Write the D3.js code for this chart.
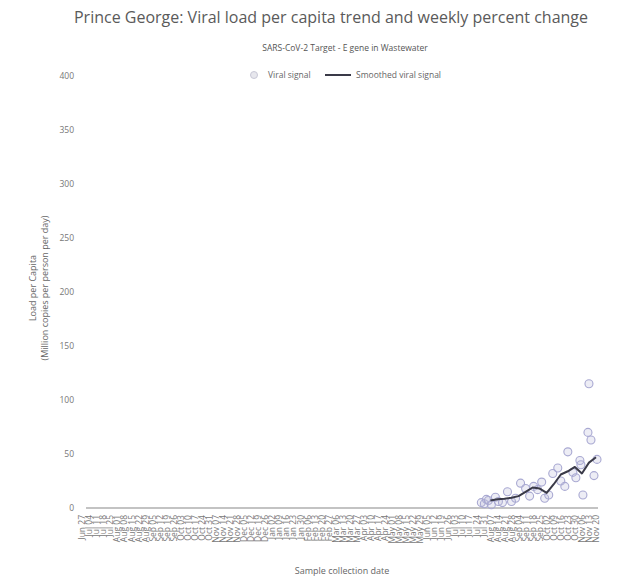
<!DOCTYPE html>
<html>
<head>
<meta charset="utf-8">
<script src="https://cdn.jsdelivr.net/npm/d3@7"></script>
<style>
  html, body { margin: 0; padding: 0; background: #fff; }
  svg { display: block; font-family: "Open Sans", "Noto Sans", sans-serif; }
</style>
</head>
<body>
<svg id="chart" width="617" height="580"></svg>
<script>
// Sample collection dates and per-capita viral load (million copies / person / day)
const sampleDates = [
  "2022-07-29", "2022-08-01", "2022-08-03", "2022-08-05", "2022-08-08", "2022-08-12",
  "2022-08-15", "2022-08-19", "2022-08-24", "2022-08-28", "2022-09-01", "2022-09-06",
  "2022-09-11", "2022-09-15", "2022-09-19", "2022-09-23", "2022-09-27", "2022-09-30",
  "2022-10-04", "2022-10-08", "2022-10-13", "2022-10-16", "2022-10-20", "2022-10-23",
  "2022-10-28", "2022-10-31", "2022-11-04", "2022-11-05", "2022-11-07", "2022-11-12",
  "2022-11-13", "2022-11-15", "2022-11-18", "2022-11-21"
];
const viralSignal = [
  5, 4, 8, 7, 3, 10,
  6, 5, 15, 6, 9, 23,
  18, 11, 20, 17, 24, 9,
  12, 32, 37, 25, 20, 52,
  33, 28, 44, 40, 12, 70,
  115, 63, 30, 45
];

// Weekly smoothed trend
const smoothedDates = [
  "2022-08-07", "2022-08-14", "2022-08-21", "2022-08-28", "2022-09-04", "2022-09-11",
  "2022-09-18", "2022-09-25", "2022-10-02", "2022-10-09", "2022-10-16", "2022-10-23",
  "2022-10-30", "2022-11-06", "2022-11-13", "2022-11-20"
];
const smoothedSignal = [7, 8, 8.5, 9.5, 11, 15, 19, 18, 14, 22, 31, 34, 38, 32, 42, 47];

// Axis ticks
const yTicks = [0, 50, 100, 150, 200, 250, 300, 350, 400];
const xTickFirst = "2021-06-27";
const xTickLast = "2022-11-20";

const parse = d3.timeParse("%Y-%m-%d");
const fmt = d3.timeFormat("%b %d");
const xTicks = d3.timeDay.range(parse(xTickFirst), d3.timeDay.offset(parse(xTickLast), 1), 7);

const svg = d3.select("#chart");

const x = d3.scaleTime()
  .domain([parse(xTickFirst), parse(xTickLast)])
  .range([82, 596]);
const y = d3.scaleLinear().domain([0, 400]).range([508, 76]);

// Title block
svg.append("text")
  .attr("x", 331).attr("y", 23)
  .attr("text-anchor", "middle")
  .attr("font-size", 16)
  .attr("fill", "#5a5a5a")
  .text("Prince George: Viral load per capita trend and weekly percent change");

svg.append("text")
  .attr("x", 345).attr("y", 51)
  .attr("text-anchor", "middle")
  .attr("font-size", 8.5)
  .attr("fill", "#555")
  .text("SARS-CoV-2 Target - E gene in Wastewater");

// Legend
const leg = svg.append("g").attr("transform", "translate(0,75)");
leg.append("circle").attr("cx", 254).attr("cy", 0).attr("r", 3.5)
  .attr("fill", "rgba(195,195,210,0.4)").attr("stroke", "#c8c8d6").attr("stroke-width", 1);
leg.append("text").attr("x", 268).attr("y", 3).attr("font-size", 8.5).attr("fill", "#666")
  .text("Viral signal");
leg.append("line").attr("x1", 325).attr("x2", 351).attr("y1", 0).attr("y2", 0)
  .attr("stroke", "#3a3a48").attr("stroke-width", 2);
leg.append("text").attr("x", 356).attr("y", 3).attr("font-size", 8.5).attr("fill", "#666")
  .text("Smoothed viral signal");

// Y axis
const yAxis = svg.append("g")
  .attr("transform", "translate(74,0)")
  .call(d3.axisLeft(y).tickValues(yTicks).tickSize(0).tickPadding(0));
yAxis.select(".domain").remove();
yAxis.selectAll("text").attr("font-size", 8.5).attr("fill", "#777").attr("font-family", "Open Sans, sans-serif");

// Y axis title
const yTitle = svg.append("text")
  .attr("transform", "translate(36,288) rotate(-90)")
  .attr("text-anchor", "middle")
  .attr("font-size", 9)
  .attr("fill", "#666");
yTitle.append("tspan").attr("x", 0).attr("dy", 0).text("Load per Capita");
yTitle.append("tspan").attr("x", 0).attr("dy", 12).text("(Million copies per person per day)");

// X axis tick labels
const xAxis = svg.append("g")
  .attr("transform", "translate(0,515)")
  .call(d3.axisBottom(x).tickValues(xTicks).tickFormat(fmt).tickSize(0).tickPadding(0));
xAxis.select(".domain").remove();
xAxis.selectAll("text")
  .attr("font-size", 8.5)
  .attr("fill", "#777")
  .attr("font-family", "Open Sans, sans-serif")
  .attr("text-anchor", "end")
  .attr("transform", "rotate(-90)")
  .attr("x", 0).attr("y", 0)
  .attr("dx", 0).attr("dy", "0.32em");

svg.append("text")
  .attr("x", 342).attr("y", 574)
  .attr("text-anchor", "middle")
  .attr("font-size", 9)
  .attr("fill", "#666")
  .text("Sample collection date");

// Zero line
svg.append("line")
  .attr("x1", 86).attr("x2", 598)
  .attr("y1", y(0)).attr("y2", y(0))
  .attr("stroke", "#888").attr("stroke-width", 1.2);

// Viral signal samples
svg.append("g").selectAll("circle")
  .data(sampleDates.map((d, i) => ({ date: parse(d), value: viralSignal[i] })))
  .join("circle")
  .attr("cx", d => x(d.date))
  .attr("cy", d => y(d.value))
  .attr("r", 4)
  .attr("fill", "rgba(185,185,215,0.25)")
  .attr("stroke", "#a9a9d2")
  .attr("stroke-width", 1.1);

// Smoothed trend line
const line = d3.line()
  .x(d => x(d.date))
  .y(d => y(d.value));
svg.append("path")
  .datum(smoothedDates.map((d, i) => ({ date: parse(d), value: smoothedSignal[i] })))
  .attr("d", line)
  .attr("fill", "none")
  .attr("stroke", "#3a3a48")
  .attr("stroke-width", 2)
  .attr("stroke-linejoin", "round");
</script>
</body>
</html>
